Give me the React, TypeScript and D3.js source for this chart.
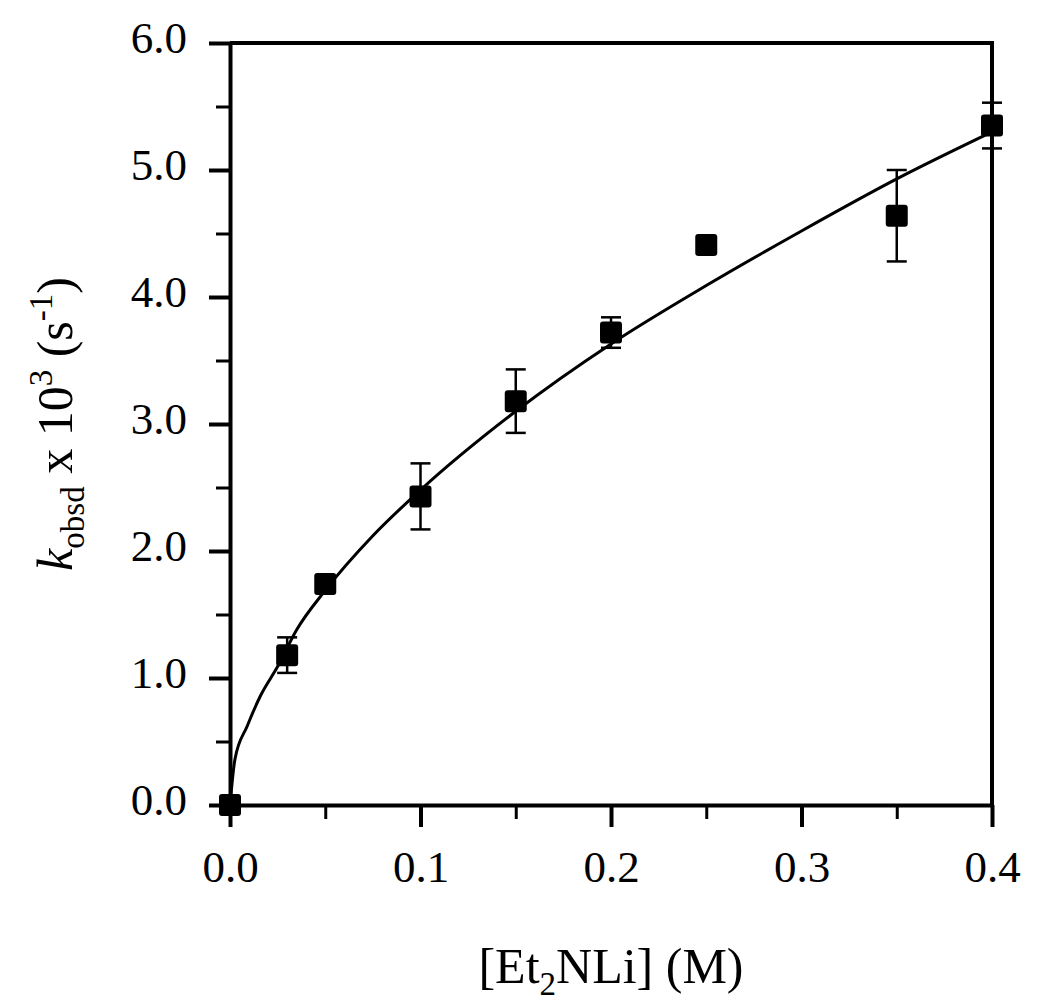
import { useEffect, useRef } from 'react';
import * as d3 from 'd3';

// measured data (x = [Et2NLi] in M, y = kobsd x 10^3 in s^-1)
const concentrations = [0, 0.03, 0.05, 0.1, 0.15, 0.2, 0.25, 0.35, 0.4];
const rates = [0, 1.18, 1.74, 2.43, 3.18, 3.72, 4.41, 4.64, 5.35];
const rateErrors = [0, 0.14, 0.05, 0.26, 0.25, 0.12, 0.05, 0.36, 0.18];

// fitted curve
const fitX = [0, 0.0026, 0.009, 0.016, 0.025, 0.035, 0.05, 0.075, 0.1, 0.15, 0.2, 0.25, 0.3, 0.35, 0.4];
const fitY = [0, 0.36, 0.62, 0.86, 1.09, 1.38, 1.69, 2.12, 2.48, 3.1, 3.63, 4.09, 4.52, 4.93, 5.3];

const xMajor = [0, 0.1, 0.2, 0.3, 0.4];
const xMinor = [0.05, 0.15, 0.25, 0.35];
const yMajor = [0, 1, 2, 3, 4, 5, 6];
const yMinor = [0.5, 1.5, 2.5, 3.5, 4.5, 5.5];

const FONT = "'Liberation Serif', 'Times New Roman', serif";

const App = () => {
  const svgRef = useRef<SVGSVGElement>(null);

  useEffect(() => {
    document.body.style.margin = '0';
    const width = 1050;
    const height = 1007;
    const margin = { top: 43, right: 58, bottom: 202, left: 230 };
    const innerWidth = width - margin.left - margin.right;
    const innerHeight = height - margin.top - margin.bottom;

    d3.select(svgRef.current).selectAll('*').remove();

    const svg = d3
      .select(svgRef.current)
      .attr('width', width)
      .attr('height', height)
      .append('g')
      .attr('transform', `translate(${margin.left}, ${margin.top})`);

    const x = d3.scaleLinear().domain([0, 0.4]).range([0, innerWidth]);
    const y = d3.scaleLinear().domain([0, 6]).range([innerHeight, 0]);

    const axisStroke = 4;

    // minor ticks
    const xMinorAxis = svg
      .append('g')
      .attr('transform', `translate(0, ${innerHeight})`)
      .call(d3.axisBottom(x).tickValues(xMinor).tickSize(14).tickSizeOuter(0).tickFormat(() => ''));
    xMinorAxis.select('.domain').remove();
    xMinorAxis.selectAll('line').attr('stroke', '#000').attr('stroke-width', 3);

    const yMinorAxis = svg
      .append('g')
      .call(d3.axisLeft(y).tickValues(yMinor).tickSize(14).tickSizeOuter(0).tickFormat(() => ''));
    yMinorAxis.select('.domain').remove();
    yMinorAxis.selectAll('line').attr('stroke', '#000').attr('stroke-width', 3);

    // frame: top and right
    svg
      .append('path')
      .attr('d', `M0,0H${innerWidth}V${innerHeight}`)
      .attr('fill', 'none')
      .attr('stroke', '#000')
      .attr('stroke-width', axisStroke);

    // X axis
    const xAxis = svg
      .append('g')
      .attr('transform', `translate(0, ${innerHeight})`)
      .call(
        d3.axisBottom(x)
          .tickValues(xMajor)
          .tickSize(22)
          .tickSizeOuter(0)
          .tickPadding(23)
          .tickFormat(d3.format('.1f') as any)
      );
    xAxis.select('.domain').attr('stroke', '#000').attr('stroke-width', axisStroke);
    xAxis.selectAll('line').attr('stroke', '#000').attr('stroke-width', axisStroke);
    xAxis
      .selectAll('text')
      .attr('dy', '0.71em')
      .style('font-family', FONT)
      .style('font-size', '45px')
      .style('fill', '#000');

    // Y axis
    const yAxis = svg
      .append('g')
      .call(
        d3.axisLeft(y)
          .tickValues(yMajor)
          .tickSize(21)
          .tickSizeOuter(0)
          .tickPadding(22)
          .tickFormat(d3.format('.1f') as any)
      );
    yAxis.select('.domain').attr('stroke', '#000').attr('stroke-width', axisStroke);
    yAxis.selectAll('line').attr('stroke', '#000').attr('stroke-width', axisStroke);
    yAxis
      .selectAll('text')
      .attr('dy', '0.22em')
      .style('font-family', FONT)
      .style('font-size', '45px')
      .style('fill', '#000');

    // fit line
    const fitData = fitX.map((v, i) => ({ x: v, y: fitY[i] }));
    const line = d3
      .line<{ x: number; y: number }>()
      .x(d => x(d.x))
      .y(d => y(d.y))
      .curve(d3.curveMonotoneX);

    svg
      .append('path')
      .datum(fitData)
      .attr('fill', 'none')
      .attr('stroke', '#000')
      .attr('stroke-width', 3)
      .attr('d', line);

    const points = concentrations.map((c, i) => ({ x: c, y: rates[i], err: rateErrors[i] }));

    // error bars
    const bars = svg
      .selectAll('.err')
      .data(points.filter(d => d.err > 0))
      .enter()
      .append('g')
      .attr('class', 'err')
      .attr('stroke', '#000')
      .attr('stroke-width', 2.5);

    bars
      .append('line')
      .attr('x1', d => x(d.x))
      .attr('x2', d => x(d.x))
      .attr('y1', d => y(d.y + d.err))
      .attr('y2', d => y(d.y - d.err));
    bars
      .append('line')
      .attr('x1', d => x(d.x) - 10)
      .attr('x2', d => x(d.x) + 10)
      .attr('y1', d => y(d.y + d.err))
      .attr('y2', d => y(d.y + d.err));
    bars
      .append('line')
      .attr('x1', d => x(d.x) - 10)
      .attr('x2', d => x(d.x) + 10)
      .attr('y1', d => y(d.y - d.err))
      .attr('y2', d => y(d.y - d.err));

    // markers
    const size = 22;
    svg
      .selectAll('.dot')
      .data(points)
      .enter()
      .append('rect')
      .attr('class', 'dot')
      .attr('x', d => x(d.x) - size / 2)
      .attr('y', d => y(d.y) - size / 2)
      .attr('width', size)
      .attr('height', size)
      .attr('rx', 3)
      .attr('fill', '#000');

    // X axis label
    const xLabel = svg
      .append('text')
      .attr('x', innerWidth / 2)
      .attr('y', innerHeight + 178)
      .attr('text-anchor', 'middle')
      .style('font-family', FONT)
      .style('font-size', '50px')
      .style('fill', '#000');
    xLabel.append('tspan').text('[Et');
    xLabel.append('tspan').attr('dy', 12).style('font-size', '33px').text('2');
    xLabel.append('tspan').attr('dy', -12).text('NLi] (M)');

    // Y axis label
    const yLabel = svg
      .append('text')
      .attr('transform', 'rotate(-90)')
      .attr('x', -innerHeight / 2)
      .attr('y', 72 - margin.left)
      .attr('text-anchor', 'middle')
      .style('font-family', FONT)
      .style('font-size', '50px')
      .style('fill', '#000');
    yLabel.append('tspan').style('font-style', 'italic').text('k');
    yLabel.append('tspan').attr('dy', 12).style('font-size', '33px').text('obsd');
    yLabel.append('tspan').attr('dy', -12).text(' x 10');
    yLabel.append('tspan').attr('dy', -20).style('font-size', '33px').text('3');
    yLabel.append('tspan').attr('dy', 20).text(' (s');
    yLabel.append('tspan').attr('dy', -20).style('font-size', '33px').text('-1');
    yLabel.append('tspan').attr('dy', 20).text(')');
  }, []);

  return (
    <div className="chart-container">
      <svg ref={svgRef}></svg>
    </div>
  );
};

export default App;
